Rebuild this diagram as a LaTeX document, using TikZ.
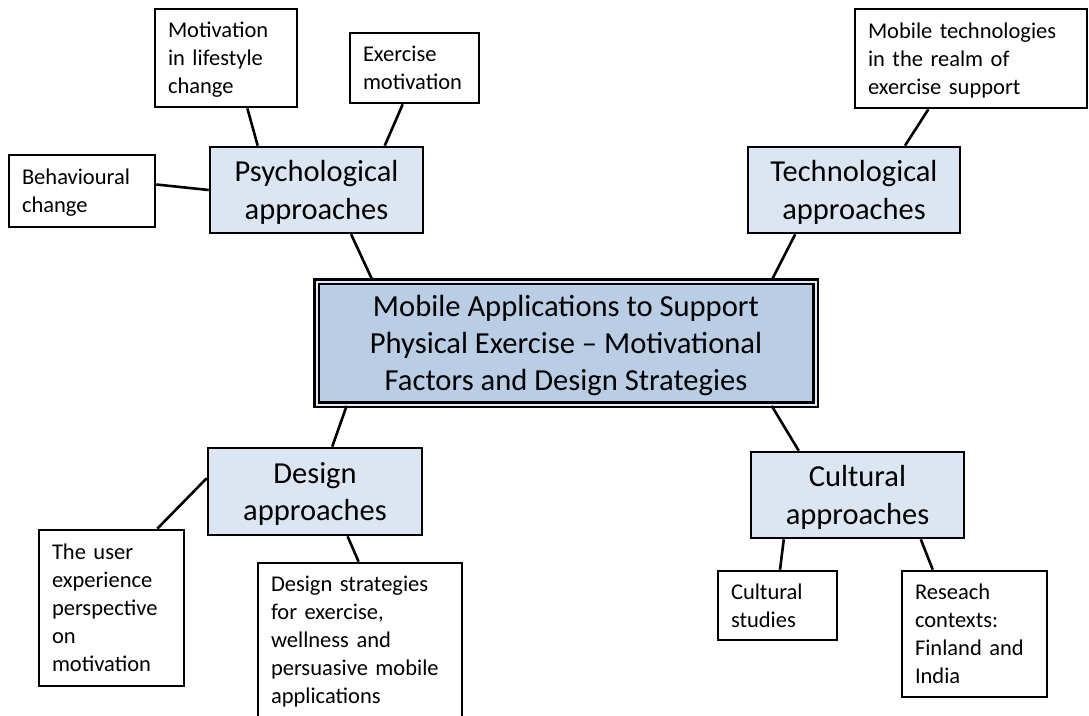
\documentclass[tikz,border=0pt]{standalone}
\usepackage{fontspec}
\setmainfont{Carlito}
\usepackage{tikz}

\definecolor{branchfill}{HTML}{DCE6F2}
\definecolor{corefill}{HTML}{B9CDE5}

\begin{document}
\begin{tikzpicture}[x=1pt, y=-1pt,
    % text depth = lines below the first one, plus the descent of the last
    leaf/.style={rectangle, draw, line width=2.6pt, fill=white, align=left,
      text height=21.4pt, text depth=#1, inner xsep=13pt, inner ysep=0pt,
      font=\fontsize{22.5}{28}\selectfont},
    leaf/.default=34pt,
    branch/.style={rectangle, draw, line width=2.6pt, fill=branchfill, align=center,
      text height=66.5pt, text depth=8.2pt, inner sep=0pt,
      font=\fontsize{30.5}{37.5}\selectfont},
    core/.style={rectangle, draw, line width=2.8pt, double=corefill!40!white, double distance=2pt,
      fill=corefill, align=center, text height=103.1pt, text depth=8.2pt, inner sep=0pt,
      font=\fontsize{30.6}{37}\selectfont},
    link/.style={line width=2.6pt}]
    \useasboundingbox (0,0) rectangle (1089,715);
    \clip (0,0) rectangle (1089,715);

    % centre topic
    \node[core, minimum width=499, minimum height=123] (core) at (566,343)
      {Mobile Applications to Support\\Physical Exercise -- Motivational\\Factors and Design Strategies};

    % four approaches
    \node[branch, minimum width=213, minimum height=86] (psy) at (316.5,190) {Psychological\\approaches};
    \node[branch, minimum width=212, minimum height=86] (tech) at (854,190) {Technological\\approaches};
    \node[branch, minimum width=214, minimum height=87] (des) at (315,491.5) {Design\\approaches};
    \node[branch, minimum width=213, minimum height=86] (cul) at (857.5,495) {Cultural\\approaches};

    % leaves
    \node[leaf=62pt, text width=116, minimum height=98] (mot) at (226,58) {Motivation\\in lifestyle\\change};
    \node[leaf, text width=103, minimum height=70] (exm) at (414.5,68) {Exercise\\motivation};
    \node[leaf, text width=120, minimum height=72] (beh) at (82,191) {Behavioural\\change};
    \node[leaf=62pt, text width=206, minimum height=99] (mtech) at (971,58.5) {Mobile technologies\\in the realm of\\exercise support};
    \node[leaf=118pt, text width=119, minimum height=156] (ux) at (111.5,608) {The user\\experience\\perspective\\on\\motivation};
    \node[leaf=118pt, text width=178, minimum height=154] (dstr) at (360,640) {Design strategies\\for exercise,\\wellness and\\persuasive mobile\\applications};
    \node[leaf, text width=93, minimum height=69] (cst) at (777.5,605.5) {Cultural\\studies};
    \node[leaf=90pt, text width=119, minimum height=126] (res) at (974.5,634) {Reseach\\contexts:\\Finland and\\India};

    % connectors
    \draw[link] (mot.293) -- (psy.143);
    \draw[link] (exm.252) -- (psy.33);
    \draw[link] (beh.5.5) -- (psy.180);
    \draw[link] (psy.308) -- (core.162);
    \draw[link] (mtech.230) -- (tech.41);
    \draw[link] (tech.217.5) -- (core.17);
    \draw[link] (core.196.5) -- (des.69);
    \draw[link] (core.343.5) -- (cul.143);
    \draw[link] (des.173) -- (ux.60);
    \draw[link] (des.306) -- (dstr.91.5);
    \draw[link] (cul.211.5) -- (cst.86);
    \draw[link] (cul.325) -- (res.123.5);
  \end{tikzpicture}
\end{document}
